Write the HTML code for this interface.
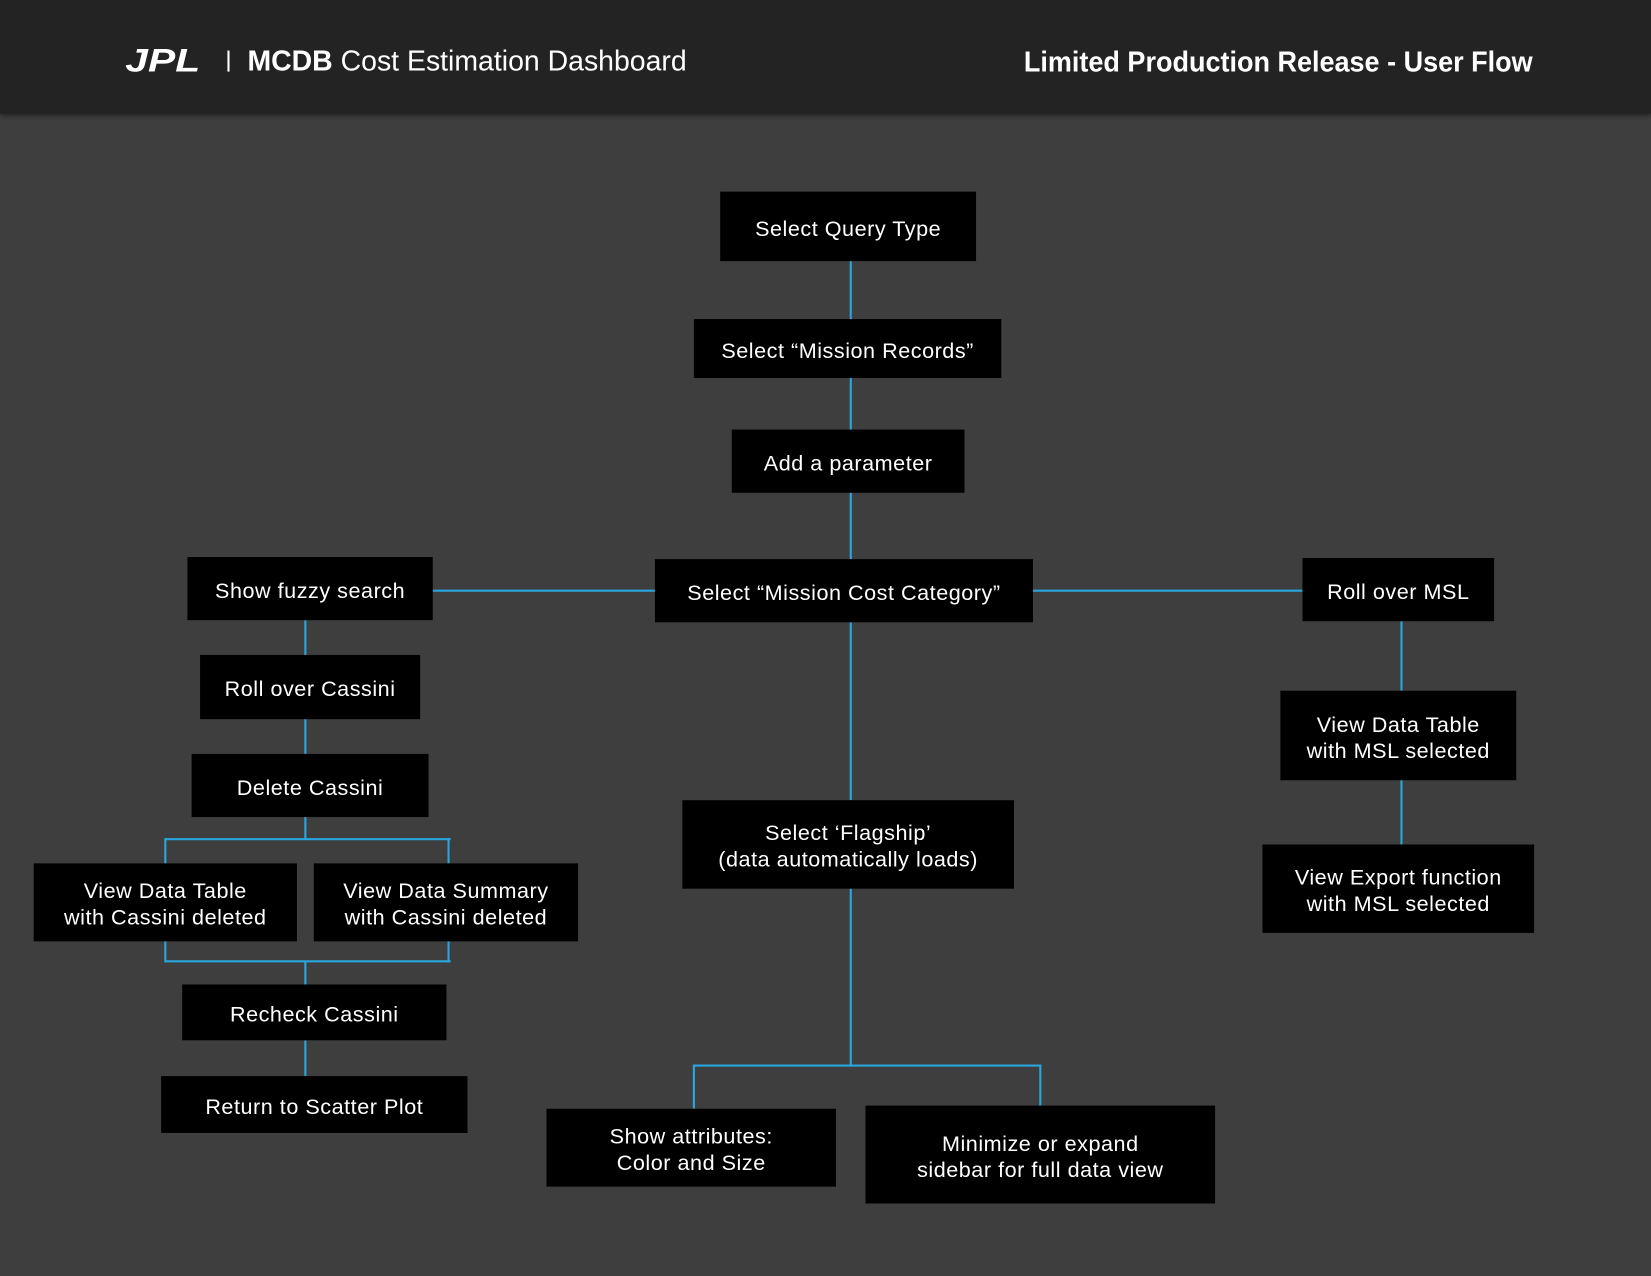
<!DOCTYPE html>
<html><head><style>
html,body{margin:0;padding:0;width:1651px;height:1276px;overflow:hidden;background:#3e3e3e}
#w{position:absolute;left:0;top:0;width:1568px;height:1212px;transform:scale(1.05293);transform-origin:0 0;font-family:"Liberation Sans",sans-serif}
.hd{position:absolute;left:0;top:0;width:1568px;height:108px;background:#232323;box-shadow:0 2px 4px rgba(0,0,0,.4)}
.b{position:absolute;background:#000;color:#fff;font-size:20.5px;display:flex;align-items:center;justify-content:center;text-align:center;line-height:25px;letter-spacing:.5px;box-sizing:border-box;padding-top:4px}
.l{position:absolute;background:#29a6de}
.h{height:2px}.v{width:2px}
</style></head><body><div id="w">
<div class="hd">
<div style="position:absolute;left:119px;top:40px;color:#fff;font-size:31px;font-weight:bold;font-style:italic;letter-spacing:0px;transform:scaleX(1.25);transform-origin:0 0">JPL</div>
<div style="position:absolute;left:216px;top:48px;width:2px;height:20px;background:#fff"></div>
<div style="position:absolute;left:235px;top:43px;color:#fff;font-size:27px"><b>MCDB</b> Cost Estimation Dashboard</div>
<div style="position:absolute;right:112px;top:44px;color:#fff;font-size:27px;font-weight:bold;white-space:nowrap;transform:scaleX(0.95);transform-origin:100% 0">Limited Production Release - User Flow</div>
</div>
<!-- lines -->
<div class="l v" style="left:807px;top:248px;height:283px"></div>
<div class="l v" style="left:807px;top:591px;height:169px"></div>
<div class="l v" style="left:807px;top:844px;height:169px"></div>
<div class="l h" style="left:411px;top:560px;width:211px"></div>
<div class="l h" style="left:981px;top:560px;width:256px"></div>
<div class="l v" style="left:289px;top:589px;height:33px"></div>
<div class="l v" style="left:289px;top:683px;height:33px"></div>
<div class="l v" style="left:289px;top:776px;height:21px"></div>
<div class="l h" style="left:157px;top:796px;width:271px"></div>
<div class="l v" style="left:156px;top:796px;height:24px"></div>
<div class="l v" style="left:425px;top:796px;height:24px"></div>
<div class="l h" style="left:157px;top:912px;width:271px"></div>
<div class="l v" style="left:156px;top:894px;height:20px"></div>
<div class="l v" style="left:425px;top:894px;height:20px"></div>
<div class="l v" style="left:289px;top:913px;height:22px"></div>
<div class="l v" style="left:289px;top:988px;height:34px"></div>
<div class="l v" style="left:1330px;top:590px;height:66px"></div>
<div class="l v" style="left:1330px;top:741px;height:61px"></div>
<div class="l h" style="left:659px;top:1011px;width:330px"></div>
<div class="l v" style="left:658px;top:1011px;height:42px"></div>
<div class="l v" style="left:987px;top:1011px;height:39px"></div>
<!-- boxes -->
<div class="b" style="left:684px;top:182px;width:243px;height:66px">Select Query Type</div>
<div class="b" style="left:659px;top:303px;width:292px;height:56px">Select “Mission Records”</div>
<div class="b" style="left:695px;top:408px;width:221px;height:60px">Add a parameter</div>
<div class="b" style="left:622px;top:531px;width:359px;height:60px">Select “Mission Cost Category”</div>
<div class="b" style="left:178px;top:529px;width:233px;height:60px">Show fuzzy search</div>
<div class="b" style="left:1237px;top:530px;width:182px;height:60px">Roll over MSL</div>
<div class="b" style="left:190px;top:622px;width:209px;height:61px">Roll over Cassini</div>
<div class="b" style="left:182px;top:716px;width:225px;height:60px">Delete Cassini</div>
<div class="b" style="left:32px;top:820px;width:250px;height:74px">View Data Table<br>with Cassini deleted</div>
<div class="b" style="left:298px;top:820px;width:251px;height:74px">View Data Summary<br>with Cassini deleted</div>
<div class="b" style="left:173px;top:935px;width:251px;height:53px">Recheck Cassini</div>
<div class="b" style="left:153px;top:1022px;width:291px;height:54px">Return to Scatter Plot</div>
<div class="b" style="left:648px;top:760px;width:315px;height:84px">Select ‘Flagship’<br>(data automatically loads)</div>
<div class="b" style="left:519px;top:1053px;width:275px;height:74px">Show attributes:<br>Color and Size</div>
<div class="b" style="left:822px;top:1050px;width:332px;height:93px">Minimize or expand<br>sidebar for full data view</div>
<div class="b" style="left:1216px;top:656px;width:224px;height:85px">View Data Table<br>with MSL selected</div>
<div class="b" style="left:1199px;top:802px;width:258px;height:84px">View Export function<br>with MSL selected</div>
</div></body></html>
